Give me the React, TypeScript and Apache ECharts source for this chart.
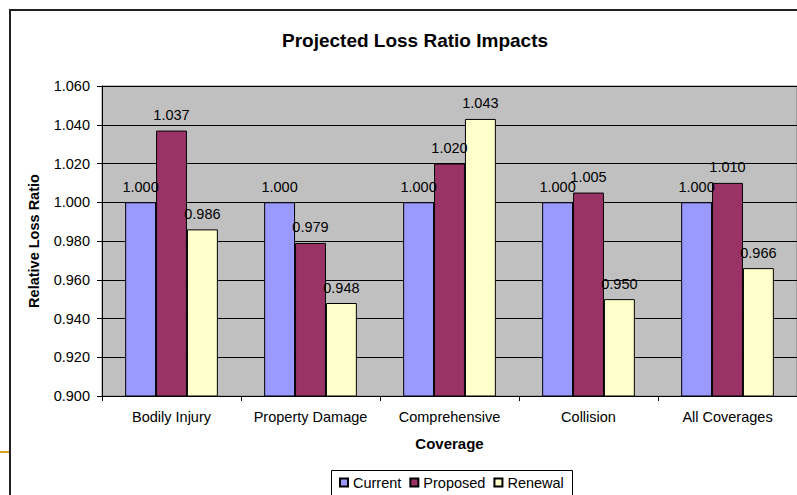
import React, { useEffect, useRef } from "react";
import * as echarts from "echarts";

// Coverage categories along the x axis
const categories = ["Bodily Injury", "Property Damage", "Comprehensive", "Collision", "All Coverages"];

// Relative loss ratios per scenario
const currentValues = [1.0, 1.0, 1.0, 1.0, 1.0];
const proposedValues = [1.037, 0.979, 1.02, 1.005, 1.01];
const renewalValues = [0.986, 0.948, 1.043, 0.95, 0.966];

// Value axis range
const yMin = 0.9;
const yMax = 1.06;
const yStep = 0.02;

const FONT = "'Liberation Sans', Arial, sans-serif";

const barSeries = (name: string, data: number[], color: string) => ({
  name,
  type: "bar",
  data,
  barGap: "0%",
  barCategoryGap: "33.3%",
  itemStyle: { color, borderColor: "#000", borderWidth: 1 },
  label: {
    show: true,
    position: "top",
    distance: 8,
    color: "#000",
    fontFamily: FONT,
    fontSize: 14.5,
    formatter: (p: any) => Number(p.value).toFixed(3),
  },
});

export default function App() {
  const ref = useRef<HTMLDivElement>(null);

  useEffect(() => {
    if (!ref.current) return;
    const chart = echarts.init(ref.current, undefined, { renderer: "svg" });
    chart.setOption({
      animation: false,
      backgroundColor: "#fff",
      title: {
        text: "Projected Loss Ratio Impacts",
        left: 410,
        top: 26,
        textAlign: "center",
        textStyle: { fontFamily: FONT, fontSize: 19, fontWeight: "bold", color: "#000" },
      },
      grid: {
        left: 102,
        top: 86,
        right: 0,
        bottom: 99,
        show: true,
        backgroundColor: "#C0C0C0",
        borderColor: "#808080",
        borderWidth: 1,
        containLabel: false,
        outerBoundsMode: "none",
      },
      legend: {
        left: 334,
        top: 470,
        icon: "rect",
        itemWidth: 8,
        itemHeight: 8,
        itemGap: 8,
        z: 10,
        textStyle: { fontFamily: FONT, fontSize: 14.5, color: "#000" },
        data: ["Current", "Proposed", "Renewal"],
      },
      xAxis: {
        type: "category",
        data: categories,
        name: "Coverage",
        nameLocation: "middle",
        nameGap: 40,
        nameTextStyle: { fontFamily: FONT, fontSize: 15, fontWeight: "bold", color: "#000" },
        axisLine: { show: true, lineStyle: { color: "#000", width: 1 } },
        axisTick: { show: true, alignWithLabel: false, interval: 0, length: 5, lineStyle: { color: "#000" } },
        axisLabel: { interval: 0, fontFamily: FONT, fontSize: 14.5, color: "#000", margin: 13 },
        splitLine: { show: false },
      },
      yAxis: {
        type: "value",
        min: yMin,
        max: yMax,
        interval: yStep,
        name: "Relative Loss Ratio",
        nameLocation: "middle",
        nameGap: 61,
        nameTextStyle: { fontFamily: FONT, fontSize: 14.5, fontWeight: "bold", color: "#000" },
        axisLine: { show: true, lineStyle: { color: "#000", width: 1 } },
        axisTick: { show: true, length: 5, lineStyle: { color: "#000" } },
        axisLabel: {
          fontFamily: FONT,
          fontSize: 14.5,
          color: "#000",
          margin: 12,
          formatter: (v: number) => v.toFixed(3),
        },
        splitLine: { show: true, lineStyle: { color: "#000", width: 1 } },
      },
      graphic: [
        {
          type: "rect",
          z: 100,
          silent: true,
          shape: { x: 10, y: 10, width: 900, height: 600 },
          style: { fill: "none", stroke: "#222", lineWidth: 2 },
        },
        {
          type: "line",
          z: 100,
          silent: true,
          shape: { x1: 0, y1: 452, x2: 9, y2: 452 },
          style: { stroke: "#D4A21A", lineWidth: 2 },
        },
        {
          type: "rect",
          z: 1,
          silent: true,
          shape: { x: 331.5, y: 470.5, width: 241, height: 60 },
          style: { fill: "#fff", stroke: "#000", lineWidth: 1 },
        },
      ],
      series: [
        barSeries("Current", currentValues, "#9999FF"),
        barSeries("Proposed", proposedValues, "#993366"),
        barSeries("Renewal", renewalValues, "#FFFFCC"),
      ],
    });
    return () => chart.dispose();
  }, []);

  return (
    <div
      ref={ref}
      style={{ position: "fixed", left: 0, top: 0, width: 797, height: 495 }}
    />
  );
}
